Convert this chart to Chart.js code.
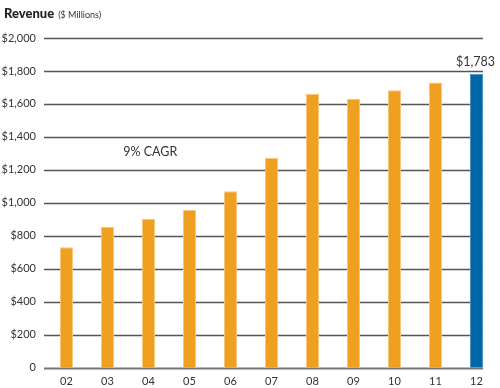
<!DOCTYPE html>
<html>
<head>
<meta charset="utf-8">
<script src="https://cdn.jsdelivr.net/npm/chart.js@4"></script>
<style>
    html, body { margin: 0; padding: 0; background: #fff; }
    #wrap { position: relative; width: 500px; height: 388px; }
    #title { position: absolute; left: 4px; top: 2px; font-family: Lato, sans-serif; color: #222; white-space: nowrap; }
    #title b { font-size: 13px; font-weight: 900; }
    #title span { font-size: 9px; color: #333; margin-left: 4px; }
</style>
</head>
<body>
<div id="wrap">
    <canvas id="revenueChart" width="500" height="388"></canvas>
    <div id="title"><b>Revenue</b><span>($ Millions)</span></div>
</div>
<script>
    // ===== DATA =====
    const years = ['02', '03', '04', '05', '06', '07', '08', '09', '10', '11', '12'];
    const revenue = [730, 855, 903, 957, 1070, 1272, 1661, 1631, 1683, 1730, 1783];
    const yTicks = [0, 200, 400, 600, 800, 1000, 1200, 1400, 1600, 1800, 2000];
    const lastLabel = '$1,783';
    const cagrLabel = '9% CAGR';

    const ORANGE = '#F0A020';
    const BLUE = '#0066A6';
    const barColors = years.map((y, i) => i === years.length - 1 ? BLUE : ORANGE);

    // grid lines run from the axis to the right edge of the last bar
    const gridPlugin = {
        id: 'gridLines',
        beforeDatasetsDraw(chart) {
            const ctx = chart.ctx;
            const y = chart.scales.y;
            const bars = chart.getDatasetMeta(0).data;
            const last = bars[bars.length - 1];
            const x0 = chart.chartArea.left - 2;
            const x1 = last.x + last.width / 2;
            ctx.save();
            yTicks.forEach(v => {
                const py = Math.round(y.getPixelForValue(v)) + 0.5;
                ctx.strokeStyle = v === 0 ? '#777' : '#555';
                ctx.lineWidth = v === 0 ? 2 : 1.3;
                ctx.beginPath();
                ctx.moveTo(x0, py);
                ctx.lineTo(x1, py);
                ctx.stroke();
            });
            ctx.restore();
        },
        afterDatasetsDraw(chart) {
            const ctx = chart.ctx;
            const bars = chart.getDatasetMeta(0).data;
            const last = bars[bars.length - 1];
            ctx.save();
            ctx.fillStyle = '#333';
            ctx.font = '12.5px Lato, sans-serif';
            ctx.textAlign = 'center';
            ctx.textBaseline = 'bottom';
            ctx.fillText(lastLabel, last.x - 1, last.y - 6);

            // CAGR note
            const xs = chart.scales.x;
            const cx = (xs.getPixelForValue(1) + xs.getPixelForValue(2) * 3) / 4 + 12;
            const cy = chart.scales.y.getPixelForValue(1310);
            ctx.font = '12.5px Lato, sans-serif';
            ctx.textBaseline = 'middle';
            ctx.fillText(cagrLabel, cx, cy);
            ctx.restore();
        }
    };

    new Chart(document.getElementById('revenueChart'), {
        type: 'bar',
        data: {
            labels: years,
            datasets: [{
                data: revenue,
                backgroundColor: barColors,
                borderColor: barColors.map(c => c === BLUE ? '#4A90C4' : '#F7C679'),
                borderWidth: { top: 1, left: 1, right: 1, bottom: 0 },
                borderSkipped: 'bottom',
                categoryPercentage: 1,
                barPercentage: 0.32
            }]
        },
        options: {
            responsive: false,
            animation: false,
            layout: { padding: { top: 38, right: 3, bottom: 0, left: 0 } },
            plugins: {
                legend: { display: false },
                tooltip: { enabled: false }
            },
            scales: {
                x: {
                    afterFit(scale) { scale.height = 20.3; },
                    grid: { display: false, drawTicks: false },
                    border: { display: false },
                    ticks: {
                        color: '#333',
                        padding: 7,
                        font: { family: 'Lato, sans-serif', size: 11 }
                    }
                },
                y: {
                    min: 0,
                    max: 2000,
                    afterFit(scale) { scale.width = 46; },
                    afterBuildTicks(scale) { scale.ticks = yTicks.map(v => ({ value: v })); },
                    grid: { display: false, drawTicks: false },
                    border: { display: false },
                    ticks: {
                        color: '#333',
                        padding: 10,
                        font: { family: 'Lato, sans-serif', size: 11 },
                        callback: function(value) {
                            return value === 0 ? '0' : '$' + value.toLocaleString('en-US');
                        }
                    }
                }
            }
        },
        plugins: [gridPlugin]
    });
</script>
</body>
</html>
